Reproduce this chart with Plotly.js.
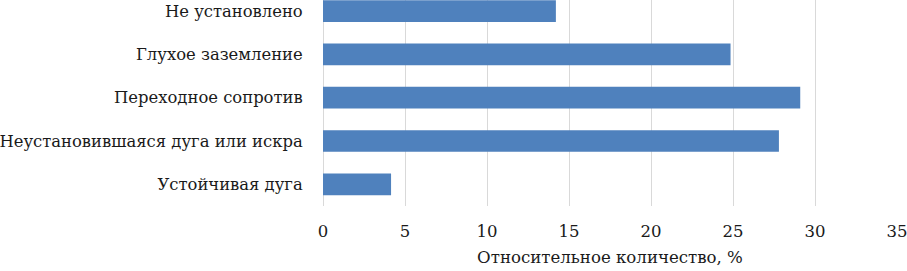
<!DOCTYPE html>
<html>
<head>
<meta charset="utf-8">
<script src="https://cdn.plot.ly/plotly-3.0.1.min.js"></script>
<style>html,body{margin:0;padding:0;background:#fff;}#chart{width:907px;height:271px;}</style>
</head>
<body>
<div id="chart"></div>
<script>
const categories = ["Устойчивая дуга", "Неустановившаяся дуга или искра", "Переходное сопротив", "Глухое заземление", "Не установлено"];
const values = [4.15, 27.8, 29.1, 24.85, 14.2];
const xTicks = [0, 5, 10, 15, 20, 25, 30, 35];
const xTitle = "Относительное количество, %";

const fam = 'DejaVu Serif';
const yFont = {family: fam, size: 16.4, color: '#1a1a1a'};
const xFont = {family: fam, size: 16.5, color: '#1a1a1a'};
const tFont = {family: fam, size: 16.6, color: '#1a1a1a'};

Plotly.newPlot('chart', [{
  type: 'bar',
  orientation: 'h',
  y: categories,
  x: values,
  marker: {color: '#4f81bd'},
  hoverinfo: 'none'
}], {
  width: 907,
  height: 271,
  margin: {l: 323, r: 10, t: 0, b: 65.3},
  paper_bgcolor: '#fff',
  plot_bgcolor: '#fff',
  font: yFont,
  bargap: 0.5,
  showlegend: false,
  xaxis: {
    range: [0, 35],
    tickvals: xTicks,
    ticktext: xTicks.map(String),
    showgrid: true,
    gridcolor: '#d9d9d9',
    gridwidth: 1,
    zeroline: true,
    zerolinecolor: '#d9d9d9',
    zerolinewidth: 1,
    showline: false,
    ticks: 'outside',
    ticklen: 10,
    tickcolor: 'rgba(0,0,0,0)',
    tickfont: xFont,
    ticklabeloverflow: 'allow',
    title: {text: xTitle, font: tFont, standoff: 11},
    fixedrange: true
  },
  yaxis: {
    type: 'category',
    range: [-0.5, 4.255],
    showgrid: false,
    zeroline: false,
    showline: false,
    ticks: 'outside',
    ticklen: 16,
    tickcolor: 'rgba(0,0,0,0)',
    tickfont: yFont,
    fixedrange: true
  }
}, {displayModeBar: false, staticPlot: true});
</script>
</body>
</html>
